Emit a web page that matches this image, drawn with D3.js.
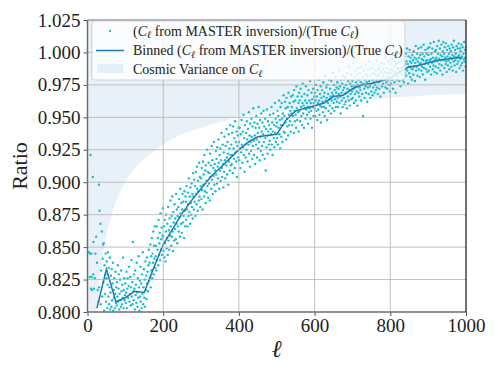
<!DOCTYPE html>
<html>
<head>
<meta charset="utf-8">
<script src="https://cdn.jsdelivr.net/npm/d3@7"></script>
<style>
  body { margin: 0; background: #fff; }
  svg { display: block; }
  text { font-family: "Liberation Serif", "DejaVu Serif", serif; fill: #222; }
</style>
</head>
<body>
<svg id="plot"></svg>
<script>
// ratio (C_l from MASTER inversion)/(True C_l), one value per multipole, l = 2..1000
const ratio0 = [ // l = 2..99
  0.712, 0.774, 0.846, 0.792, 0.827, 0.845, 0.921, 0.818, 0.845, 0.827, 0.817, 0.781, 0.904, 0.829, 0.854, 0.818, 0.763, 0.826, 0.796,
  0.845, 0.785, 0.858, 0.771, 0.838, 0.799, 0.817, 0.752, 0.808, 0.898, 0.819, 0.878, 0.787, 0.868, 0.806, 0.832, 0.779, 0.862, 0.812, 0.841,
  0.852, 0.823, 0.853, 0.801, 0.836, 0.814, 0.829, 0.845, 0.808, 0.826, 0.839, 0.803, 0.821, 0.846, 0.812, 0.834, 0.806, 0.819, 0.842, 0.802,
  0.815, 0.828, 0.804, 0.833, 0.809, 0.822, 0.838, 0.801, 0.817, 0.811, 0.826, 0.803, 0.814, 0.831, 0.807, 0.819, 0.805, 0.823, 0.812, 0.836,
  0.808, 0.818, 0.829, 0.802, 0.814, 0.825, 0.809, 0.804, 0.832, 0.816, 0.806, 0.821, 0.811, 0.842, 0.803, 0.817, 0.826, 0.809, 0.813
];
const ratio1 = [ // l = 100..199
  0.822, 0.807, 0.815, 0.831, 0.803, 0.818, 0.826, 0.811, 0.799, 0.820, 0.835, 0.808, 0.814, 0.827, 0.805, 0.819, 0.840, 0.812, 0.823, 0.806,
  0.854, 0.816, 0.809, 0.829, 0.818, 0.802, 0.832, 0.813, 0.821, 0.807, 0.838, 0.815, 0.804, 0.826, 0.811, 0.843, 0.819, 0.801, 0.824, 0.812,
  0.835, 0.808, 0.822, 0.803, 0.829, 0.814, 0.846, 0.806, 0.819, 0.833, 0.811, 0.825, 0.804, 0.839, 0.817, 0.828, 0.810, 0.842, 0.822, 0.831,
  0.816, 0.836, 0.848, 0.824, 0.838, 0.827, 0.852, 0.819, 0.843, 0.832, 0.857, 0.826, 0.845, 0.838, 0.862, 0.829, 0.851, 0.841, 0.866, 0.834,
  0.843, 0.851, 0.832, 0.866, 0.840, 0.848, 0.857, 0.836, 0.871, 0.844, 0.853, 0.861, 0.840, 0.876, 0.848, 0.856, 0.865, 0.844, 0.859, 0.880
];
const ratio2 = [ // l = 200..299
  0.858, 0.847, 0.866, 0.842, 0.871, 0.853, 0.839, 0.862, 0.875, 0.849, 0.857, 0.868, 0.844, 0.881, 0.855, 0.863, 0.848, 0.872, 0.859, 0.886,
  0.866, 0.851, 0.874, 0.858, 0.889, 0.862, 0.847, 0.877, 0.869, 0.855, 0.883, 0.864, 0.872, 0.856, 0.891, 0.868, 0.879, 0.853, 0.874, 0.866,
  0.881, 0.862, 0.887, 0.873, 0.858, 0.895, 0.876, 0.868, 0.884, 0.861, 0.879, 0.891, 0.869, 0.885, 0.874, 0.857, 0.893, 0.878, 0.866, 0.889,
  0.885, 0.871, 0.897, 0.879, 0.866, 0.892, 0.883, 0.874, 0.903, 0.877, 0.889, 0.868, 0.896, 0.884, 0.875, 0.899, 0.881, 0.891, 0.872, 0.907,
  0.889, 0.879, 0.902, 0.885, 0.897, 0.874, 0.908, 0.891, 0.883, 0.912, 0.895, 0.878, 0.901, 0.893, 0.886, 0.915, 0.889, 0.904, 0.881, 0.897
];
const ratio3 = [ // l = 300..399
  0.903, 0.887, 0.911, 0.894, 0.879, 0.916, 0.898, 0.906, 0.889, 0.921, 0.893, 0.909, 0.884, 0.913, 0.901, 0.892, 0.925, 0.897, 0.908, 0.888,
  0.915, 0.899, 0.907, 0.886, 0.922, 0.904, 0.913, 0.895, 0.928, 0.902, 0.917, 0.891, 0.911, 0.905, 0.931, 0.898, 0.914, 0.909, 0.893, 0.924,
  0.906, 0.918, 0.899, 0.927, 0.912, 0.903, 0.933, 0.915, 0.895, 0.921, 0.909, 0.926, 0.901, 0.917, 0.938, 0.911, 0.904, 0.929, 0.914, 0.896,
  0.923, 0.908, 0.935, 0.917, 0.903, 0.928, 0.913, 0.941, 0.919, 0.906, 0.931, 0.922, 0.898, 0.937, 0.916, 0.926, 0.909, 0.944, 0.921, 0.913,
  0.929, 0.914, 0.938, 0.921, 0.907, 0.943, 0.926, 0.918, 0.934, 0.911, 0.947, 0.923, 0.931, 0.916, 0.939, 0.904, 0.928, 0.936, 0.919, 0.942
];
const ratio4 = [ // l = 400..499
  0.931, 0.917, 0.942, 0.926, 0.911, 0.937, 0.923, 0.948, 0.929, 0.915, 0.939, 0.927, 0.952, 0.921, 0.934, 0.908, 0.944, 0.929, 0.919, 0.938,
  0.925, 0.947, 0.933, 0.916, 0.941, 0.929, 0.954, 0.922, 0.936, 0.912, 0.945, 0.931, 0.924, 0.949, 0.935, 0.918, 0.943, 0.928, 0.957, 0.932,
  0.921, 0.946, 0.936, 0.914, 0.942, 0.929, 0.951, 0.933, 0.919, 0.945, 0.938, 0.926, 0.958, 0.931, 0.942, 0.917, 0.948, 0.935, 0.924, 0.953,
  0.939, 0.928, 0.946, 0.921, 0.937, 0.955, 0.931, 0.943, 0.918, 0.949, 0.934, 0.909, 0.941, 0.927, 0.956, 0.936, 0.922, 0.947, 0.939, 0.929,
  0.944, 0.932, 0.952, 0.925, 0.941, 0.937, 0.958, 0.929, 0.946, 0.921, 0.939, 0.953, 0.934, 0.944, 0.927, 0.961, 0.938, 0.949, 0.931, 0.943
];
const ratio5 = [ // l = 500..599
  0.946, 0.934, 0.955, 0.929, 0.951, 0.942, 0.963, 0.937, 0.948, 0.926, 0.958, 0.944, 0.935, 0.961, 0.949, 0.931, 0.953, 0.944, 0.967, 0.939,
  0.951, 0.938, 0.962, 0.946, 0.957, 0.933, 0.965, 0.949, 0.943, 0.958, 0.936, 0.969, 0.952, 0.944, 0.961, 0.947, 0.955, 0.939, 0.966, 0.953,
  0.958, 0.944, 0.967, 0.951, 0.962, 0.938, 0.971, 0.955, 0.947, 0.963, 0.952, 0.942, 0.974, 0.957, 0.948, 0.966, 0.954, 0.961, 0.939, 0.969,
  0.955, 0.963, 0.947, 0.972, 0.958, 0.951, 0.966, 0.944, 0.961, 0.976, 0.953, 0.959, 0.942, 0.968, 0.957, 0.963, 0.949, 0.974, 0.956, 0.961,
  0.952, 0.967, 0.958, 0.945, 0.971, 0.954, 0.963, 0.957, 0.978, 0.949, 0.961, 0.955, 0.969, 0.942, 0.964, 0.958, 0.972, 0.951, 0.961, 0.966
];
const ratio6 = [ // l = 600..699
  0.957, 0.969, 0.951, 0.963, 0.975, 0.955, 0.966, 0.948, 0.971, 0.961, 0.956, 0.979, 0.963, 0.952, 0.968, 0.959, 0.974, 0.946, 0.965, 0.958,
  0.971, 0.962, 0.954, 0.977, 0.966, 0.958, 0.969, 0.951, 0.982, 0.963, 0.957, 0.973, 0.965, 0.948, 0.975, 0.961, 0.968, 0.955, 0.979, 0.964,
  0.959, 0.972, 0.966, 0.953, 0.978, 0.963, 0.969, 0.957, 0.984, 0.967, 0.961, 0.975, 0.955, 0.971, 0.964, 0.981, 0.958, 0.969, 0.973, 0.962,
  0.977, 0.965, 0.958, 0.972, 0.968, 0.986, 0.961, 0.974, 0.966, 0.953, 0.979, 0.969, 0.963, 0.976, 0.958, 0.971, 0.982, 0.965, 0.973, 0.960,
  0.968, 0.981, 0.962, 0.975, 0.969, 0.957, 0.984, 0.972, 0.966, 0.978, 0.963, 0.989, 0.971, 0.959, 0.976, 0.968, 0.983, 0.964, 0.974, 0.970
];
const ratio7 = [ // l = 700..799
  0.978, 0.965, 0.992, 0.972, 0.961, 0.981, 0.974, 0.968, 0.986, 0.963, 0.977, 0.970, 0.983, 0.959, 0.975, 0.988, 0.969, 0.979, 0.966, 0.973,
  0.984, 0.971, 0.977, 0.963, 0.989, 0.975, 0.968, 0.981, 0.951, 0.976, 0.986, 0.972, 0.965, 0.979, 0.991, 0.974, 0.969, 0.983, 0.977, 0.962,
  0.981, 0.973, 0.987, 0.968, 0.978, 0.993, 0.974, 0.965, 0.982, 0.976, 0.970, 0.988, 0.979, 0.967, 0.984, 0.973, 0.991, 0.977, 0.969, 0.983,
  0.975, 0.986, 0.971, 0.979, 0.994, 0.973, 0.982, 0.968, 0.987, 0.977, 0.983, 0.972, 0.989, 0.978, 0.966, 0.985, 0.979, 0.992, 0.974, 0.981,
  0.987, 0.976, 0.983, 0.969, 0.991, 0.979, 0.985, 0.973, 0.996, 0.981, 0.977, 0.988, 0.972, 0.984, 0.979, 0.993, 0.975, 0.986, 0.981, 0.970
];
const ratio8 = [ // l = 800..899
  0.984, 0.991, 0.976, 0.987, 0.995, 0.979, 0.986, 0.972, 0.998, 0.983, 0.989, 0.977, 0.993, 0.985, 0.969, 0.991, 0.982, 0.997, 0.979, 0.988,
  0.992, 0.981, 0.987, 0.999, 0.978, 0.993, 0.985, 0.974, 0.996, 0.988, 0.983, 1.001, 0.986, 0.979, 0.994, 0.989, 0.977, 0.997, 0.984, 0.991,
  0.987, 0.999, 0.982, 0.993, 1.003, 0.986, 0.991, 0.976, 0.997, 0.989, 0.984, 1.002, 0.993, 0.981, 0.996, 0.988, 0.992, 0.979, 0.998, 0.987,
  0.994, 0.983, 1.001, 0.989, 0.996, 0.978, 0.992, 1.005, 0.986, 0.995, 0.989, 0.999, 0.982, 0.993, 1.003, 0.987, 0.996, 0.991, 0.981, 0.998,
  0.992, 1.004, 0.986, 0.995, 0.989, 0.999, 0.983, 0.994, 1.006, 0.988, 0.997, 0.991, 0.979, 1.002, 0.993, 0.987, 0.999, 0.994, 0.985, 1.003
];
const ratio9 = [ // l = 900..1000
  0.991, 0.998, 0.986, 1.004, 0.994, 0.989, 1.007, 0.995, 0.983, 0.999, 0.992, 1.003, 0.987, 0.996, 0.990, 1.008, 0.993, 0.985, 1.001, 0.995,
  0.989, 1.002, 0.996, 0.984, 1.005, 0.993, 0.999, 0.988, 1.009, 0.995, 0.991, 1.003, 0.986, 0.998, 0.994, 1.006, 0.990, 0.997, 0.983, 1.001,
  1.008, 0.994, 0.999, 0.988, 1.004, 0.996, 0.991, 1.007, 0.993, 0.985, 1.002, 0.997, 0.990, 1.005, 0.994, 0.999, 0.987, 1.003, 0.996, 0.992,
  1.001, 0.989, 1.006, 0.995, 0.998, 0.986, 1.004, 0.993, 1.009, 0.997, 0.990, 1.002, 0.994, 0.999, 0.985, 1.005, 0.996, 0.991, 1.003, 0.997,
  0.993, 1.007, 0.998, 0.988, 1.003, 0.995, 1.001, 0.990, 1.006, 0.997, 0.992, 1.004, 0.986, 0.999, 0.995, 1.008, 0.993, 1.002, 0.996, 0.989, 1.004
];

// binned ratio
const binEll = [25, 50, 75, 100, 125, 150, 175, 200, 225, 250, 275, 300, 325, 350, 375, 400, 425, 450, 475, 500,
  525, 550, 575, 600, 625, 650, 675, 700, 725, 750, 775, 800, 825, 850, 875, 900, 925, 950, 975, 990];
const binRatio = [0.803, 0.833, 0.808, 0.811, 0.816, 0.815, 0.834, 0.852, 0.864, 0.876, 0.886, 0.895, 0.904, 0.911, 0.918, 0.925, 0.931, 0.935, 0.936, 0.937,
  0.948, 0.955, 0.957, 0.959, 0.961, 0.966, 0.967, 0.972, 0.975, 0.976, 0.978, 0.980, 0.985, 0.989, 0.990, 0.992, 0.994, 0.995, 0.996, 0.996];

// cosmic variance band edges
const bandEll = [2, 3, 4, 5, 6, 8, 10, 13, 16, 20, 25, 30, 40, 50, 60, 75, 100, 125, 150, 200, 250, 300, 400, 500, 600, 700, 800, 900, 1000];
const bandLo = [0.368, 0.465, 0.529, 0.574, 0.608, 0.657, 0.691, 0.727, 0.753, 0.779, 0.802, 0.819, 0.843, 0.859, 0.871, 0.885, 0.900, 0.911, 0.918,
  0.929, 0.937, 0.942, 0.950, 0.955, 0.959, 0.962, 0.965, 0.967, 0.968];
const bandHi = [1.632, 1.535, 1.471, 1.426, 1.392, 1.343, 1.309, 1.273, 1.247, 1.221, 1.198, 1.181, 1.157, 1.141, 1.129, 1.115, 1.100, 1.089, 1.082,
  1.071, 1.063, 1.058, 1.050, 1.045, 1.041, 1.038, 1.035, 1.033, 1.032];

const xTicks = [0, 200, 400, 600, 800, 1000];
const yTicks = [0.800, 0.825, 0.850, 0.875, 0.900, 0.925, 0.950, 0.975, 1.000, 1.025];

const W = 498, H = 374;
const margin = { top: 20, right: 32, bottom: 62, left: 87.5 };

const svg = d3.select("#plot").attr("width", W).attr("height", H);

const x = d3.scaleLinear().domain([0, 1000]).range([margin.left, W - margin.right]);
const y = d3.scaleLinear().domain([0.8, 1.025]).range([H - margin.bottom, margin.top]);

const blue = "#1f77b4";
const cyan = "#17becf";

svg.append("clipPath").attr("id", "clip")
  .append("rect")
  .attr("x", x(0)).attr("y", y(1.025))
  .attr("width", x(1000) - x(0)).attr("height", y(0.8) - y(1.025));

const plot = svg.append("g").attr("clip-path", "url(#clip)");

// cosmic variance band
const band = bandEll.map((l, i) => ({ l, lo: bandLo[i], hi: bandHi[i] }));
plot.append("path")
  .datum(band)
  .attr("fill", blue)
  .attr("fill-opacity", 0.1)
  .attr("d", d3.area().curve(d3.curveMonotoneX)
    .x(d => x(d.l)).y0(d => y(d.lo)).y1(d => y(d.hi)));

// grid
svg.append("g").selectAll("line").data(xTicks.slice(1, -1)).join("line")
  .attr("x1", d => x(d)).attr("x2", d => x(d))
  .attr("y1", y(0.8)).attr("y2", y(1.025))
  .attr("stroke", "#b0b0b0").attr("stroke-width", 0.8);
svg.append("g").selectAll("line").data(yTicks.slice(1, -1)).join("line")
  .attr("x1", x(0)).attr("x2", x(1000))
  .attr("y1", d => y(d)).attr("y2", d => y(d))
  .attr("stroke", "#b0b0b0").attr("stroke-width", 0.8);

// scatter
const ratio = [].concat(ratio0, ratio1, ratio2, ratio3, ratio4, ratio5, ratio6, ratio7, ratio8, ratio9);
const pts = ratio.map((v, i) => ({ l: i + 2, v }));
plot.append("g").selectAll("circle").data(pts).join("circle")
  .attr("cx", d => x(d.l)).attr("cy", d => y(d.v))
  .attr("r", 1.2)
  .attr("fill", cyan);

// binned line
plot.append("path")
  .datum(binEll.map((l, i) => ({ l, v: binRatio[i] })))
  .attr("fill", "none")
  .attr("stroke", blue)
  .attr("stroke-width", 1.5)
  .attr("d", d3.line().x(d => x(d.l)).y(d => y(d.v)));

// axes
const xAxis = svg.append("g")
  .attr("transform", `translate(0,${y(0.8)})`)
  .call(d3.axisBottom(x).tickValues(xTicks).tickSize(4).tickPadding(3).tickFormat(d3.format("d")));
const yAxis = svg.append("g")
  .attr("transform", `translate(${x(0)},0)`)
  .call(d3.axisLeft(y).tickValues(yTicks).tickSize(4).tickPadding(3).tickFormat(d3.format(".3f")));
[xAxis, yAxis].forEach(g => {
  g.select(".domain").remove();
  g.selectAll(".tick line").attr("stroke", "#555").attr("stroke-width", 1);
  g.selectAll(".tick text").attr("font-size", 19).attr("fill", "#222");
});

// spines
svg.append("line").attr("x1", x(0)).attr("x2", x(0)).attr("y1", y(0.8)).attr("y2", y(1.025))
  .attr("stroke", "#6e6e6e").attr("stroke-width", 1.5);
svg.append("line").attr("x1", x(0)).attr("x2", x(1000)).attr("y1", y(0.8)).attr("y2", y(0.8))
  .attr("stroke", "#6e6e6e").attr("stroke-width", 1.5);
svg.append("line").attr("x1", x(0)).attr("x2", x(1000)).attr("y1", y(1.025)).attr("y2", y(1.025))
  .attr("stroke", "#6e6e6e").attr("stroke-width", 1.2);
svg.append("line").attr("x1", x(1000)).attr("x2", x(1000)).attr("y1", y(0.8)).attr("y2", y(1.025))
  .attr("stroke", "#111").attr("stroke-width", 1.2);

// axis labels
svg.append("text")
  .attr("x", x(500)).attr("y", 357)
  .attr("text-anchor", "middle")
  .attr("font-size", 24).attr("font-style", "italic")
  .text("ℓ");
svg.append("text")
  .attr("transform", `translate(27,${y(0.9125)}) rotate(-90)`)
  .attr("text-anchor", "middle")
  .attr("font-size", 22)
  .text("Ratio");

// legend
const leg = svg.append("g");
leg.append("rect")
  .attr("x", 92).attr("y", 21).attr("width", 313).attr("height", 59).attr("rx", 3)
  .attr("fill", "#fff").attr("fill-opacity", 0.8)
  .attr("stroke", "#cccccc").attr("stroke-opacity", 0.8);
leg.append("circle").attr("cx", 110).attr("cy", 31).attr("r", 1.2).attr("fill", cyan);
leg.append("line").attr("x1", 96).attr("x2", 124).attr("y1", 50.5).attr("y2", 50.5)
  .attr("stroke", blue).attr("stroke-width", 1.5);
leg.append("rect").attr("x", 97).attr("y", 64).attr("width", 26).attr("height", 9)
  .attr("fill", blue).attr("fill-opacity", 0.1);

const ratioLabel = [["(", ""], ["C", "i"], ["ℓ", "s"], [" from MASTER inversion)/(True ", ""], ["C", "i"], ["ℓ", "s"], [")", ""]];
function richText(yPos, parts) {
  const t = leg.append("text").attr("x", 133).attr("y", yPos).attr("font-size", 14);
  let shifted = false;
  parts.forEach(([s, kind]) => {
    const ts = t.append("tspan").text(s);
    if (kind === "i") ts.attr("font-style", "italic");
    if (kind === "s") { ts.attr("font-size", 10).attr("font-style", "italic").attr("dy", 2.5); shifted = true; }
    else if (shifted) { ts.attr("dy", -2.5); shifted = false; }
  });
}
richText(35.5, ratioLabel);
richText(55, [["Binned ", ""]].concat(ratioLabel));
richText(74, [["Cosmic Variance on ", ""], ["C", "i"], ["ℓ", "s"]]);
</script>
</body>
</html>
